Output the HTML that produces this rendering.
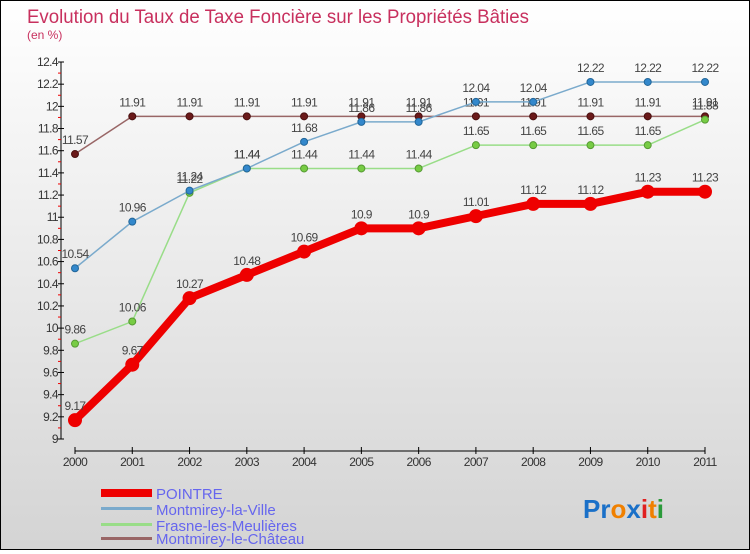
<!DOCTYPE html>
<html><head><meta charset="utf-8"><style>
html,body{margin:0;padding:0}
body{width:750px;height:550px;overflow:hidden;font-family:"Liberation Sans",sans-serif}
#wrap{position:relative;width:748px;height:548px;border:1px solid #000;background:linear-gradient(#ffffff,#d4d4d4)}
</style></head><body>
<div id="wrap">
<svg id="svg" width="748" height="548" xmlns="http://www.w3.org/2000/svg">
<text x="26" y="22" font-size="19" textLength="502" lengthAdjust="spacingAndGlyphs" fill="#c8305e">Evolution du Taux de Taxe Foncière sur les Propriétés Bâties</text>
<text x="26" y="38" font-size="12" fill="#c8305e">(en %)</text>
<g id="axes"></g><g id="series"></g>
<g>
<rect x="100" y="488" width="51" height="8" fill="#e00"/>
<text x="155" y="498" font-size="15" fill="#6666ee">POINTRE</text>
<rect x="100" y="506" width="51" height="3" fill="#7aaacc"/>
<text x="155" y="514" font-size="15" fill="#6666ee">Montmirey-la-Ville</text>
<rect x="100" y="522" width="51" height="3" fill="#99dd88"/>
<text x="155" y="530" font-size="15" fill="#6666ee">Frasne-les-Meulières</text>
<rect x="100" y="536" width="51" height="3" fill="#996666"/>
<text x="155" y="543" font-size="15" fill="#6666ee">Montmirey-le-Château</text>
</g>
<text x="582" y="517" font-size="26" font-weight="bold"><tspan fill="#1a70c8">Pr</tspan><tspan fill="#f08000">o</tspan><tspan fill="#1a70c8">x</tspan><tspan fill="#e02020">i</tspan><tspan fill="#f08000">t</tspan><tspan fill="#2a9a3a">i</tspan></text>
</svg></div>
<script>
const years=[2000,2001,2002,2003,2004,2005,2006,2007,2008,2009,2010,2011];
const yTicks=[9,9.2,9.4,9.6,9.8,10,10.2,10.4,10.6,10.8,11,11.2,11.4,11.6,11.8,12,12.2,12.4];
const pointre=[9.17,9.67,10.27,10.48,10.69,10.9,10.9,11.01,11.12,11.12,11.23,11.23];
const montmireyVille=[10.54,10.96,11.24,11.44,11.68,11.86,11.86,12.04,12.04,12.22,12.22,12.22];
const frasne=[9.86,10.06,11.22,11.44,11.44,11.44,11.44,11.65,11.65,11.65,11.65,11.88];
const montmireyChateau=[11.57,11.91,11.91,11.91,11.91,11.91,11.91,11.91,11.91,11.91,11.91,11.91];
const NS="http://www.w3.org/2000/svg";
const X=i=>74+i*(630/11);
const Y=v=>438-(v-9)*(377/3.4);
function mk(tag,attrs,parent){const e=document.createElementNS(NS,tag);for(const k in attrs)e.setAttribute(k,attrs[k]);parent.appendChild(e);return e;}
const ax=document.getElementById('axes');
let e=mk('line',{x1:60,y1:Y(12.4),x2:60,y2:Y(9),stroke:'#000'},ax);


e=mk('line',{x1:X(0),y1:450,x2:X(11),y2:450,stroke:'#000'},ax);


yTicks.forEach((t,i)=>{
 const y=Y(t);
 mk('line',{x1:57,y1:y,x2:63,y2:y,stroke:'#000'},ax);
 if(i<yTicks.length-1){mk('line',{x1:57,y1:Y(t+0.1),x2:60,y2:Y(t+0.1),stroke:'#e00'},ax);}
 const tx=mk('text',{x:57,y:y+4,'font-size':12,fill:'#333','text-anchor':'end','letter-spacing':'-0.6'},ax);
 tx.textContent=String(+t.toFixed(1));
 
 
});
years.forEach((yr,i)=>{
 mk('line',{x1:X(i),y1:446,x2:X(i),y2:453,stroke:'#000'},ax);
 const tx=mk('text',{x:X(i),y:465,'font-size':12,fill:'#333','text-anchor':'middle','letter-spacing':'-0.6'},ax);
 tx.textContent=yr;
 
 
});
const sg=document.getElementById('series');
function draw(vals,name,color,w,r,dot,dotStroke){
 const g=mk('g',{},sg);
 
 
 const l=mk('polyline',{points:vals.map((v,i)=>X(i)+','+Y(v)).join(' '),fill:'none',stroke:color,'stroke-width':w,'stroke-linejoin':'round'},g);
 
 
 vals.forEach((v,i)=>{
  const c=mk('circle',{cx:X(i),cy:Y(v),r:r,fill:dot,stroke:dotStroke,'stroke-width':1},g);
  
  
  const t=mk('text',{x:X(i),y:Y(v)-10,'font-size':12,fill:'#444','text-anchor':'middle','letter-spacing':'-0.6'},g);
  t.textContent=String(v);
  
  
 });
}
draw(montmireyChateau,'montmirey-le-chateau','#996666',1.5,3.5,'#6b1a1a','#4a1010');
draw(frasne,'frasne','#99dd88',1.5,3.5,'#77cc44','#559933');
draw(montmireyVille,'montmirey-la-ville','#7aaacc',1.5,3.5,'#3388cc','#226699');
draw(pointre,'pointre','#e00',8,6.5,'#e00','#e00');
</script>
</body></html>
